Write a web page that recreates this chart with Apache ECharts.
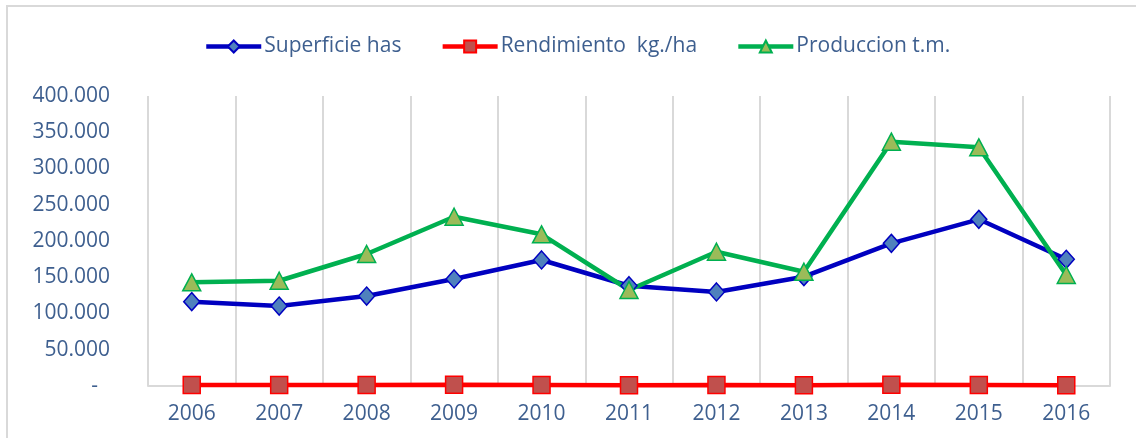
<!DOCTYPE html>
<html><head><meta charset="utf-8">
<script src="https://cdn.jsdelivr.net/npm/echarts@6/dist/echarts.min.js"></script>
<style>html,body{margin:0;padding:0;background:#fff}#c{width:1136px;height:438px}</style>
</head><body><div id="c"></div>
<script>
const years = ['2006','2007','2008','2009','2010','2011','2012','2013','2014','2015','2016'];
const superficie = [116300,110300,124100,147600,173800,138300,129700,150800,196800,229900,174800];
const rendimiento = [1250,1300,1450,1600,1250,950,1400,1050,1750,1450,900];
const produccion = [143000,145200,182100,233500,209200,132400,185200,157600,337000,329200,153100];
const yTicks = [0,50000,100000,150000,200000,250000,300000,350000,400000];

const txt = '#3e5f8f';
const font = "'Open Sans',sans-serif";
const chart = echarts.init(document.getElementById('c'), null, {renderer:'canvas'});
function fmt(v){
  if (v === 0) return '{z|-}';
  return String(v).replace(/\B(?=(\d{3})+(?!\d))/g, '.');
}
chart.setOption({
  animation:false,
  backgroundColor:'#fff',
  graphic:[{type:'rect', shape:{x:7,y:6,width:1140,height:440}, style:{fill:'none', stroke:'#d9d9d9', lineWidth:2}, silent:true}],
  legend:{
    top:31, left:199, itemWidth:55, itemHeight:15, itemGap:39,
    lineStyle:{width:4.5},
    textStyle:{color:txt, fontSize:21, fontFamily:font, padding:[0,0,0,-2]},
    data:['Superficie has','Rendimiento  kg./ha','Produccion t.m.']
  },
  grid:{left:148, right:26, top:96, bottom:52},
  xAxis:{
    type:'category', data:years, boundaryGap:true,
    axisLine:{lineStyle:{color:'#d9d9d9', width:2}},
    axisTick:{show:false},
    splitLine:{show:true, lineStyle:{color:'#d9d9d9', width:2}},
    axisLabel:{color:txt, fontSize:21, fontFamily:font, margin:18}
  },
  yAxis:{
    type:'value', min:yTicks[0], max:yTicks[yTicks.length-1], interval:50000,
    axisLine:{show:false}, axisTick:{show:false}, splitLine:{show:false},
    axisLabel:{color:txt, fontSize:21, fontFamily:font, margin:38, formatter:fmt,
      rich:{z:{color:txt, fontSize:21, fontFamily:font, padding:[0,12,0,0]}}}
  },
  series:[
    {name:'Superficie has', type:'line', data:superficie, symbol:'diamond', symbolSize:[16,18],
      lineStyle:{color:'#0000c0', width:4.5}, itemStyle:{color:'#4f81bd', borderColor:'#0000c0', borderWidth:1.5}},
    {name:'Rendimiento  kg./ha', type:'line', data:rendimiento, symbol:'rect', symbolSize:17,
      lineStyle:{color:'#ff0000', width:4.5}, itemStyle:{color:'#c0504d', borderColor:'#ff0000', borderWidth:1.5}},
    {name:'Produccion t.m.', type:'line', data:produccion, symbol:'triangle', symbolSize:[18,17],
      lineStyle:{color:'#00b050', width:4.5}, itemStyle:{color:'#9bbb59', borderColor:'#00b050', borderWidth:1.5}}
  ]
});
</script></body></html>
